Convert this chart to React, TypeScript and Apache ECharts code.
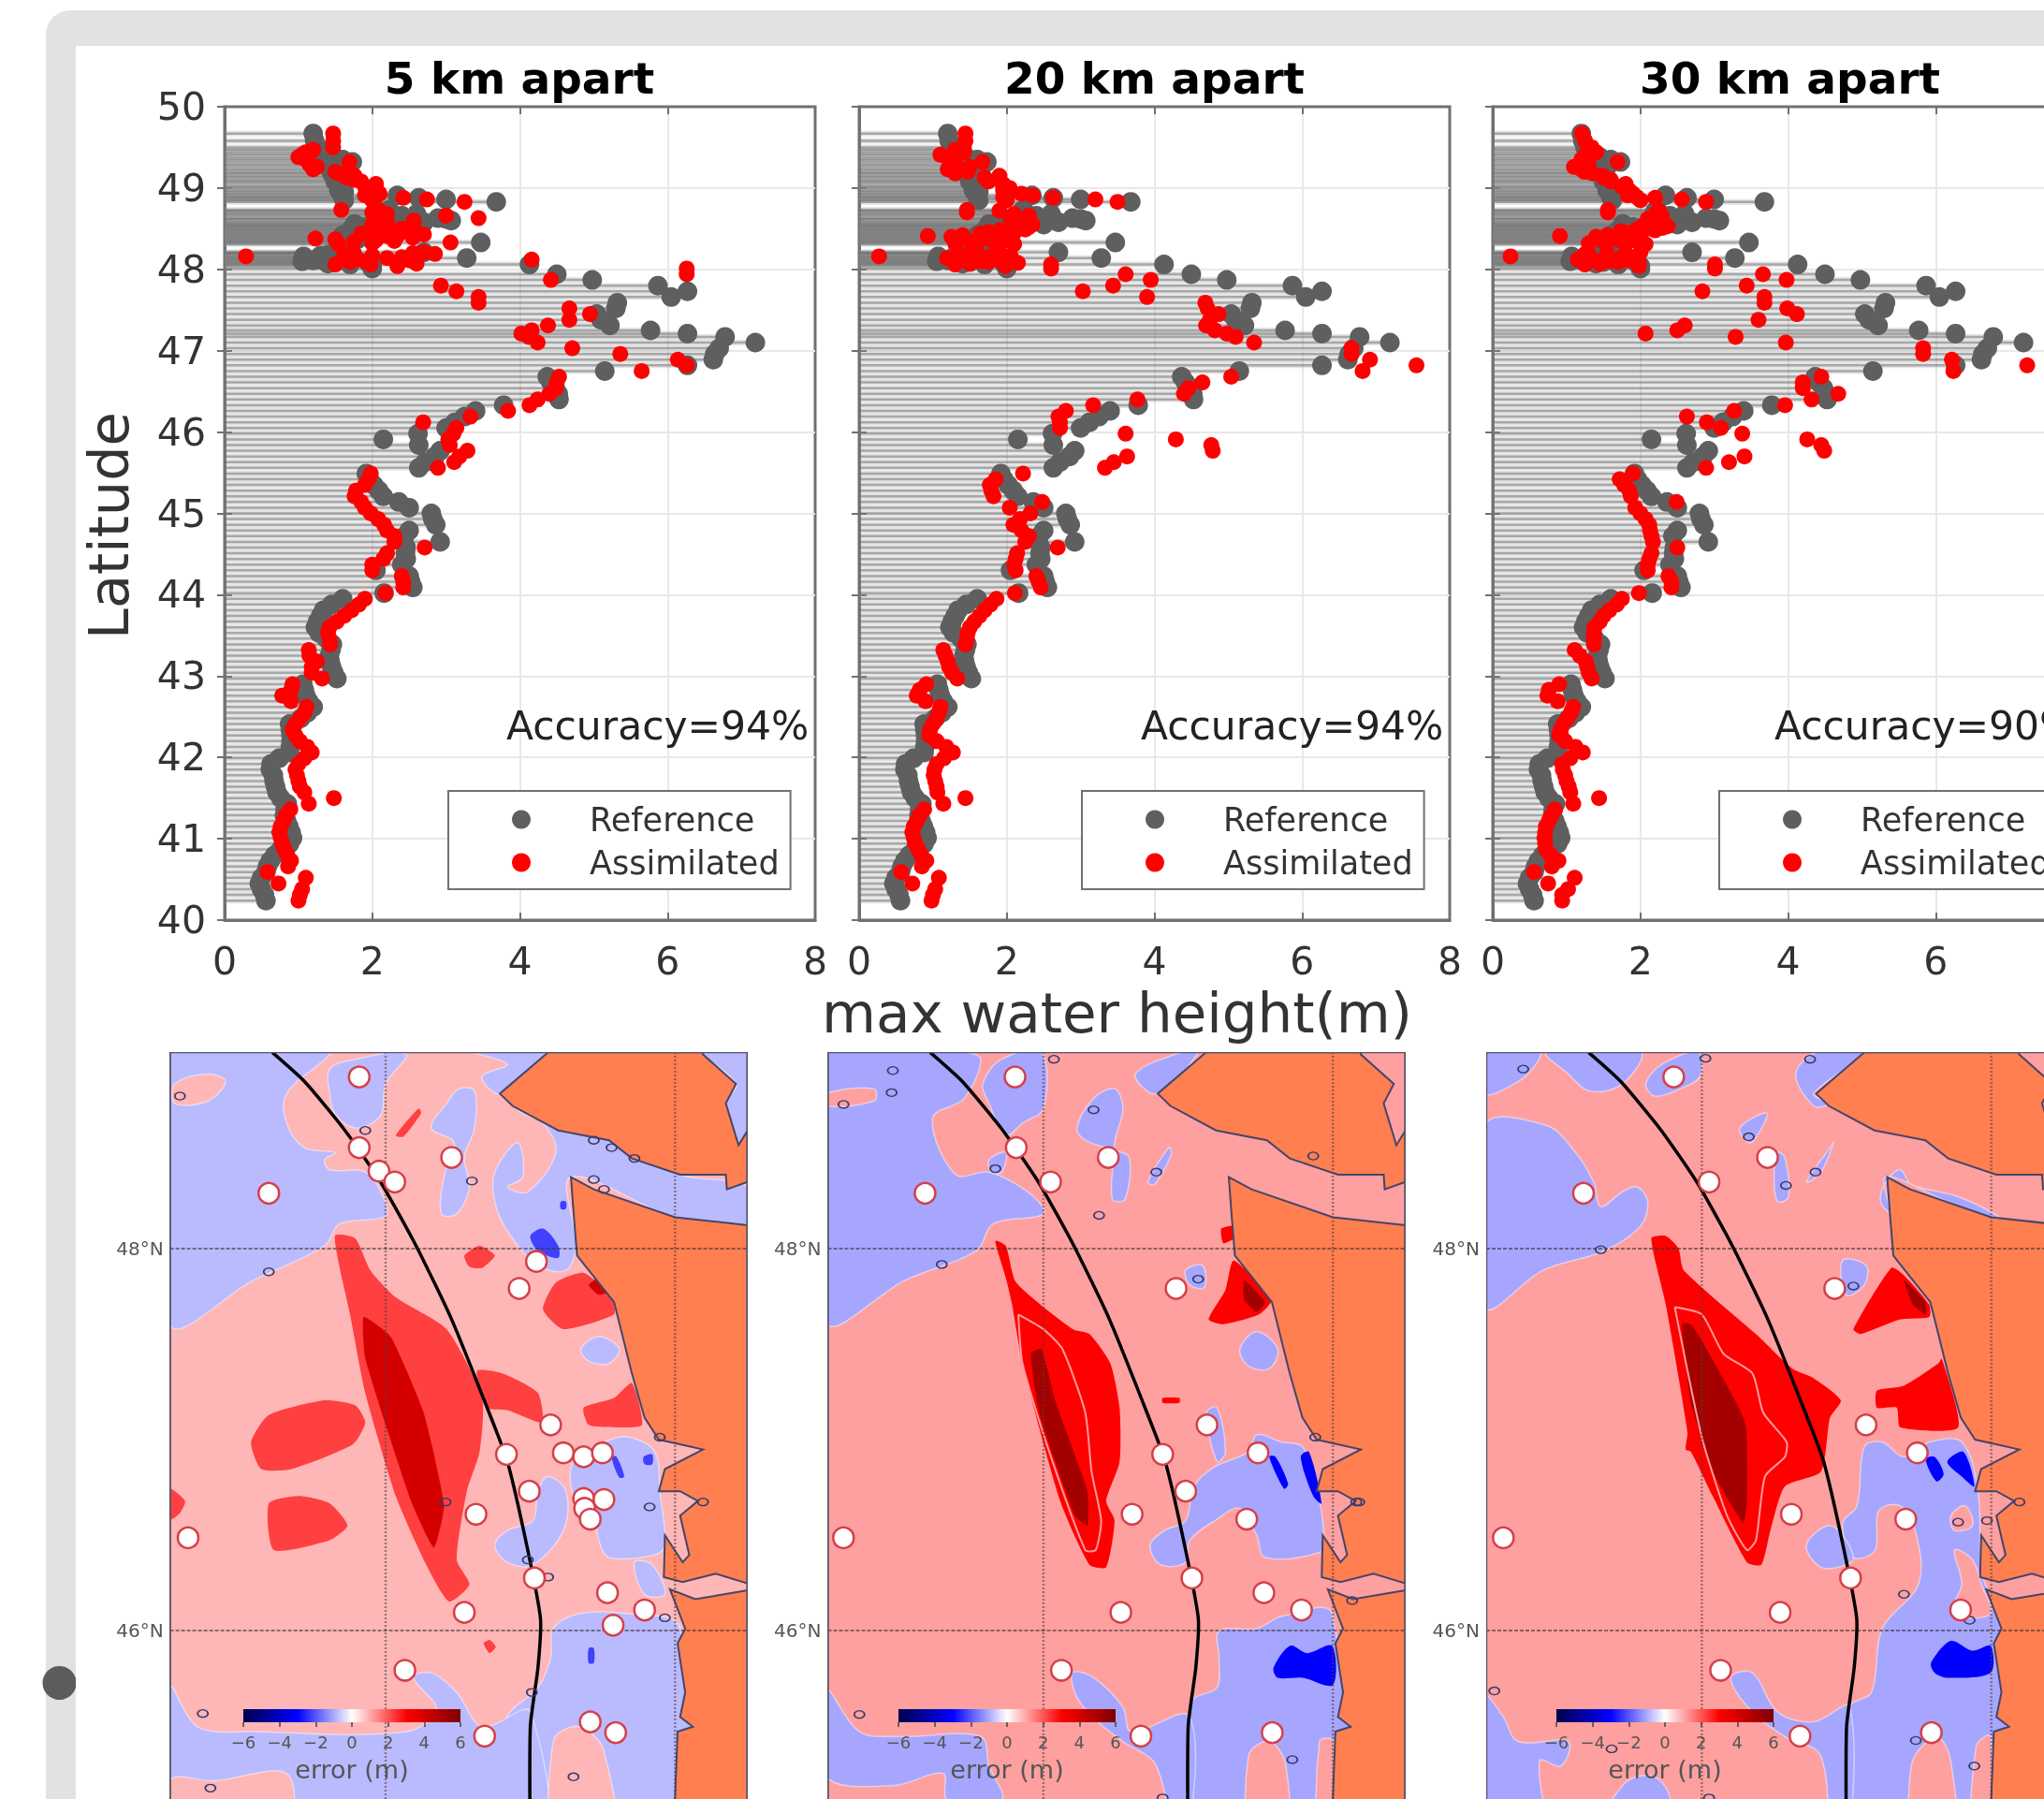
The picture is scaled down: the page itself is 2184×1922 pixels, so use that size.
import React, { useEffect, useRef } from "react";
import * as echarts from "echarts";

const panelTitles = ["5 km apart", "20 km apart", "30 km apart"];
const accuracyLabels = ["Accuracy=94%", "Accuracy=94%", "Accuracy=90%"];
const seriesNames = ["Reference", "Assimilated"];
const xTickStep = 2;
const yTickStep = 1;

const latitudes = [
  40.24,40.31,40.38,40.45,40.52,40.59,40.66,40.73,40.80,40.87,
  40.94,41.01,41.08,41.15,41.22,41.29,41.36,41.43,41.50,41.57,
  41.64,41.71,41.78,41.85,41.92,41.99,42.06,42.13,42.20,42.27,
  42.34,42.41,42.48,42.55,42.62,42.69,42.76,42.83,42.90,42.97,
  43.04,43.11,43.18,43.25,43.32,43.39,43.46,43.53,43.60,43.67,
  43.74,43.81,43.88,43.95,44.02,44.09,44.16,44.23,44.30,44.37,
  44.44,44.51,44.58,44.65,44.72,44.79,44.86,44.93,45.00,45.07,
  45.14,45.21,45.28,45.35,45.42,45.49,45.56,45.63,45.70,45.77,
  45.84,45.91,45.98,46.05,46.12,46.19,46.26,46.33,46.40,46.47,
  46.54,46.61,46.68,46.75,46.82,46.89,46.96,47.03,47.10,47.17,
  47.21,47.25,47.31,47.38,47.45,47.52,47.59,47.66,47.73,47.80,
  47.87,47.94,48.01,48.04,48.06,48.08,48.10,48.12,48.14,48.16,
  48.18,48.21,48.31,48.33,48.36,48.38,48.41,48.44,48.47,48.50,
  48.53,48.56,48.60,48.63,48.66,48.70,48.73,48.83,48.86,48.88,
  48.91,48.95,49.00,49.05,49.10,49.15,49.20,49.26,49.32,49.38,
  49.44,49.50,49.58,49.67,
  // the dense northern cluster
  48.06,48.07,48.09,48.11,48.13,48.15,48.17,48.19,48.20,48.205,
  48.32,48.34,48.35,48.37,48.39,48.40,48.42,48.43,48.45,48.46,
  48.48,48.49,48.51,48.52,48.54,48.55,48.58,48.62,48.68,48.72,
  48.85,48.89,48.93,48.97,49.02,49.08,49.13,49.18,49.23,49.29,
  49.35,49.41,49.47,
];
const referenceHeight = [
  .56,.54,.50,.47,.50,.56,.58,.62,.68,.76,
  .88,.92,.90,.87,.84,.81,.82,.85,.76,.71,
  .69,.67,.66,.62,.63,.74,.88,.89,.90,.90,
  .89,.88,1.03,1.12,1.20,1.14,1.10,1.08,1.06,1.52,
  1.48,1.45,1.43,1.42,1.44,1.46,1.38,1.28,1.23,1.26,
  1.30,1.34,1.45,1.60,2.16,2.55,2.52,2.50,2.05,2.40,
  2.46,2.45,2.46,2.92,2.44,2.50,2.86,2.82,2.80,2.50,
  2.36,2.15,2.09,2.02,1.96,1.92,2.63,2.72,2.85,2.92,
  2.63,2.15,2.62,3.00,3.12,3.25,3.40,3.78,4.53,4.52,
  4.48,4.42,4.37,5.15,6.27,6.62,6.64,6.70,7.19,6.78,
  6.27,5.77,5.22,5.10,5.04,5.30,5.32,6.05,6.27,5.87,
  4.98,4.50,2.00,2.00,4.13,1.95,1.05,1.30,3.28,1.07,
  1.40,2.70,1.60,3.47,1.70,1.60,1.80,1.70,1.75,1.90,
  1.76,1.76,3.07,2.89,2.40,2.20,2.23,3.68,3.00,2.63,
  2.34,1.62,1.58,1.57,1.55,1.50,1.50,1.55,1.73,1.45,
  1.30,1.25,1.22,1.20,
  1.70,1.40,1.50,1.20,1.50,1.60,1.30,1.45,1.55,1.70,
  1.65,1.55,1.70,1.80,1.65,1.75,1.60,1.90,1.75,1.85,
  1.70,1.80,1.75,1.90,2.20,2.50,2.70,3.00,2.60,2.20,
  1.62,1.60,1.60,1.55,1.55,1.50,1.50,1.45,1.45,1.50,
  1.60,1.40,1.30,
];
const assimilated5km = [
  1.00,1.02,1.05,.73,1.10,.58,.86,.90,.85,.81,
  .78,.76,.74,.76,.80,.83,.89,1.14,1.48,1.08,
  1.02,1.00,.98,.96,1.00,1.08,1.18,1.12,1.02,.96,
  .92,.96,1.02,1.08,1.11,.90,.78,.90,.92,1.32,
  1.18,1.18,1.25,1.15,1.14,1.43,1.42,1.40,1.42,1.52,
  1.62,1.72,1.82,1.90,2.18,2.42,2.42,2.40,2.00,2.00,
  2.15,2.20,2.71,2.30,2.30,2.20,2.16,2.08,1.98,1.90,
  1.85,1.76,1.78,1.90,1.95,1.98,2.89,3.11,3.18,3.29,
  3.05,3.03,3.10,3.14,2.69,3.33,3.84,4.13,4.24,4.40,
  4.49,4.50,4.53,5.65,6.26,6.14,5.36,4.71,4.24,4.12,
  4.02,4.16,4.38,4.67,4.95,4.67,3.44,3.44,3.14,2.93,
  4.42,6.26,6.26,2.34,1.98,2.34,1.90,4.16,2.20,0.29,
  1.62,2.70,1.54,3.06,2.05,1.23,2.20,1.85,2.30,2.40,
  2.20,2.56,2.56,3.44,3.00,2.00,1.58,3.25,2.74,2.42,
  1.90,2.05,2.05,2.05,1.76,1.76,1.50,1.25,1.69,1.00,
  1.10,1.47,1.47,1.47,
  1.50,2.60,1.70,2.50,1.80,2.40,2.00,2.85,2.55,1.75,
  2.00,1.75,2.30,1.50,2.55,2.00,2.35,2.70,2.15,2.55,
  2.05,2.20,2.00,2.10,2.20,2.00,2.20,2.10,2.20,2.10,
  2.00,2.05,2.10,1.95,1.90,1.85,1.65,1.55,1.20,1.15,
  1.10,1.05,1.20,
];
const assimilated20km = [
  .98,1.00,1.03,.72,1.08,.57,.85,.91,.84,.80,
  .76,.74,.72,.74,.78,.82,.88,1.14,1.44,1.06,
  1.05,1.03,1.01,1.02,1.05,1.15,1.27,1.18,1.05,.95,
  .96,1.00,1.05,1.08,1.10,.90,.78,.82,.91,1.33,
  1.26,1.22,1.20,1.17,1.14,1.44,1.46,1.47,1.50,1.56,
  1.63,1.70,1.78,1.86,2.11,2.46,2.43,2.40,2.12,2.10,
  2.12,2.14,2.69,2.25,2.30,2.20,2.09,2.18,2.32,2.04,
  2.48,1.82,1.79,1.77,1.85,2.22,3.33,3.45,3.63,4.79,
  4.77,4.29,3.61,2.72,2.72,2.70,2.80,3.17,3.77,4.40,
  4.46,4.65,5.04,6.82,7.55,6.92,6.67,6.67,5.35,5.10,
  4.98,4.82,4.70,4.75,4.87,4.72,4.69,3.90,3.03,3.44,
  3.95,3.61,2.60,1.98,2.60,2.15,1.64,1.98,1.19,0.27,
  1.50,1.90,2.10,1.60,2.00,1.64,0.93,1.64,2.00,2.10,
  2.20,2.30,2.27,2.15,2.30,1.46,1.46,3.50,3.20,2.63,
  2.35,2.04,2.04,1.95,1.90,1.90,1.47,1.50,1.67,1.19,
  1.42,1.42,1.44,1.44,
  1.30,1.50,1.75,1.90,1.40,1.75,2.05,1.35,1.60,1.85,
  1.30,1.50,1.80,1.95,1.70,1.25,1.40,1.85,2.10,1.75,
  1.90,2.25,2.05,2.30,2.15,2.35,2.20,2.05,2.10,1.90,
  2.00,1.95,2.20,1.95,1.95,1.75,1.70,1.30,1.20,1.30,
  1.30,1.10,1.30,
];
const assimilated30km = [
  .94,.94,1.02,.75,1.11,.56,.80,.89,.78,.72,
  .71,.70,.71,.72,.76,.80,.84,1.09,1.44,1.05,
  1.03,1.00,.98,.95,.94,1.05,1.22,1.12,.98,.90,
  .92,.96,1.01,1.06,1.09,.88,.74,.76,.90,1.34,
  1.30,1.28,1.26,1.18,1.11,1.37,1.37,1.37,1.38,1.45,
  1.50,1.58,1.68,1.75,1.98,2.42,2.42,2.38,2.10,2.10,
  2.12,2.15,2.50,2.17,2.15,2.13,2.12,2.07,2.00,1.93,
  2.49,1.87,1.85,1.78,1.72,1.90,2.89,3.20,3.41,4.49,
  4.45,4.26,3.38,3.09,2.90,2.63,3.27,3.96,4.32,4.68,
  4.20,4.20,4.45,6.24,7.24,6.22,5.83,5.83,3.97,3.29,
  2.07,2.50,2.60,3.60,4.12,3.99,3.68,3.68,2.84,3.44,
  3.98,3.66,3.01,1.98,3.01,1.98,1.59,1.15,1.59,0.24,
  1.30,2.00,2.07,1.80,1.90,1.50,0.91,1.73,1.73,2.10,
  2.37,2.20,2.29,2.29,2.29,1.56,1.56,2.89,2.56,2.20,
  1.83,1.83,1.80,1.80,1.60,1.49,1.24,1.10,1.69,1.30,
  1.40,1.34,1.25,1.21,
  1.25,1.45,1.70,1.85,1.35,1.75,1.55,1.25,1.55,1.80,
  1.30,1.50,1.75,1.65,1.95,1.40,1.55,1.90,1.85,2.00,
  2.20,1.95,2.30,2.15,2.25,2.05,2.30,2.10,2.20,2.25,
  2.00,1.95,1.90,1.85,1.75,1.60,1.50,1.35,1.20,1.30,
  1.20,1.25,1.30,
];
const assimilatedByPanel = [assimilated5km, assimilated20km, assimilated30km];

// ---- map data: outlines, each in its own tracing frame,
// converted to lon/lat by traceToGeo below and then drawn through the axes.
const meridians = [-126, -124];
const parallels = [46, 48];
const lonRange = [-127.49, -123.5];
const latRange = [44, 49.03];
const colorbarTicks = [-6, 6];
const colorbarStops = [
  [0, "#00004c"], [0.25, "#0000ff"], [0.5, "#ffffff"], [0.75, "#ff0000"], [1, "#7f0000"],
];

const traceFrames = [{ x0: 760, k: 285 }, { x0: 530, k: 346 }, { x0: 620, k: 401 }];
const traceToGeo = (f: any) => (p: number[]) => [-126 + (p[0] - f.x0) / f.k, 48 - (p[1] - 446) / 389];

const islandOutline = [[1080,46],[985,130],[1010,155],[1100,205],[1200,225],[1245,262],[1340,295],[1430,295],[1432,325],[1473,310],[1473,205],[1455,235],[1430,150],[1450,110],[1385,50],[1385,46]];
const washingtonOutline = [[1125,300],[1170,325],[1330,382],[1473,398],[1473,1128],[1410,1108],[1345,1125],[1308,1115],[1310,1030],[1345,1085],[1358,1070],[1340,990],[1375,960],[1340,940],[1298,940],[1310,895],[1385,855],[1298,835],[1270,790],[1245,700],[1210,555],[1137,460],[1130,370]];
const oregonOutline = [[1473,1142],[1370,1160],[1320,1140],[1350,1220],[1335,1250],[1350,1350],[1340,1400],[1365,1420],[1335,1430],[1325,1700],[1473,1700]];
const trenchLine = [[537,46],[600,105],[680,205],[750,310],[820,440],[890,590],[960,770],[1000,880],[1040,1060],[1065,1200],[1060,1300],[1045,1420],[1045,1700]];

const blue5km = [
  [[335,46],[650,46],[640,60],[565,130],[565,190],[600,240],[660,250],[640,265],[650,285],[720,290],[755,340],[760,380],[670,395],[640,440],[500,510],[335,600]],
  [[650,80],[700,60],[800,50],[760,110],[750,175],[700,200],[660,170],[650,130]],
  [[905,120],[935,125],[935,200],[915,260],[925,320],[900,375],[870,375],[875,300],[895,230],[850,200],[880,150]],
  [[1010,150],[1100,205],[1210,225],[1340,295],[1473,320],[1473,395],[1330,382],[1125,300],[1135,440],[1115,490],[1060,480],[1000,410],[975,350],[975,290],[1020,230],[1030,300],[1000,320],[1040,330],[1095,250],[1070,190],[1030,170]],
  [[940,46],[1080,46],[985,130],[950,95],[1000,70]],
  [[1385,46],[1473,46],[1473,205],[1455,235],[1430,150],[1450,110]],
  [[1145,650],[1180,625],[1220,650],[1200,680],[1160,675]],
  [[1130,880],[1190,840],[1240,830],[1290,860],[1300,940],[1310,1050],[1290,1070],[1200,1075],[1180,1040],[1170,990],[1130,950]],
  [[1250,1085],[1285,1090],[1310,1150],[1270,1150]],
  [[1090,1220],[1140,1190],[1240,1190],[1340,1220],[1345,1700],[1050,1700],[1045,1430],[1000,1400],[1060,1340],[1085,1280]],
  [[335,1340],[390,1420],[500,1430],[800,1430],[860,1385],[815,1320],[850,1310],[900,1350],[950,1420],[1045,1390],[1045,1700],[335,1700]],
  [[1080,910],[1115,940],[1110,1020],[1050,1090],[1000,1085],[975,1050],[1000,1020],[1050,1000],[1060,940]],
];
const pinkOver5km = [
  [[345,110],[410,90],[445,105],[410,145],[345,150]],
  [[335,1530],[420,1530],[570,1520],[540,1700],[335,1700]],
  [[1090,1450],[1140,1420],[1190,1470],[1210,1700],[1100,1700]],
];
const red5km = [
  [[660,420],[700,425],[730,490],[780,545],[880,610],[950,750],[945,860],[920,940],[900,1080],[925,1130],[885,1165],[840,1090],[780,950],[720,740],[690,580]],
  [[940,695],[990,700],[1060,740],[1068,800],[1000,775],[960,770]],
  [[495,840],[530,785],[640,755],[700,765],[720,800],[695,845],[575,895],[515,895]],
  [[530,965],[590,950],[650,965],[685,1010],[650,1040],[540,1060]],
  [[335,935],[365,960],[355,985],[335,998]],
  [[915,460],[945,440],[975,460],[950,485],[925,483]],
  [[1070,570],[1095,515],[1150,495],[1205,545],[1210,580],[1110,610]],
  [[1150,770],[1210,750],[1245,720],[1265,805],[1210,810],[1160,805]],
  [[780,215],[825,160],[830,170],[795,218]],
  [[953,1250],[965,1243],[977,1257],[965,1270]],
];
const darkRed5km = [
  [[717,585],[770,625],[835,780],[875,970],[855,1055],[810,960],[720,670]],
  [[1160,520],[1180,505],[1205,530],[1180,540]],
];
const deepBlue5km = [
  [[1045,420],[1070,405],[1100,440],[1100,465],[1060,450]],
  [[1205,870],[1215,870],[1230,910],[1220,912]],
  [[1268,870],[1285,865],[1285,885],[1270,885]],
  [[1160,1260],[1170,1260],[1170,1290],[1160,1290]],
  [[1105,350],[1115,350],[1115,365],[1105,365]],
];
const blue20km = [
  [[10,595],[200,510],[370,450],[410,395],[530,375],[500,335],[400,290],[320,295],[265,180],[340,140],[380,60],[340,46],[10,46]],
  [[385,110],[430,60],[525,46],[530,160],[480,190],[440,215],[400,150]],
  [[400,265],[440,250],[430,290],[405,290]],
  [[610,200],[650,140],[700,120],[720,160],[700,240],[735,260],[725,345],[695,345],[690,250],[630,225]],
  [[780,310],[830,240],[835,255],[795,315]],
  [[1000,650],[1040,615],[1090,650],[1070,690],[1020,685]],
  [[870,490],[910,480],[915,525],[880,520]],
  [[800,130],[900,46],[860,46],[750,90]],
  [[890,930],[940,890],[1020,860],[1040,825],[1100,840],[1150,850],[1190,960],[1200,1040],[1190,1065],[1060,1075],[1040,1030],[1000,975],[940,1000],[880,1040],[870,1085],[810,1090],[785,1050],[820,1020],[870,1000]],
  [[920,780],[945,770],[965,860],[945,880]],
  [[950,1225],[1040,1220],[1100,1195],[1220,1190],[1225,1700],[870,1700],[885,1370],[945,1340],[950,1280]],
  [[10,1345],[90,1430],[190,1440],[380,1440],[400,1500],[430,1568],[300,1568],[290,1515],[170,1540],[10,1520]],
  [[600,1310],[650,1320],[720,1380],[740,1430],[880,1400],[870,1700],[850,1700],[800,1500],[720,1450],[660,1410],[610,1360]],
];
const pinkOver20km = [
  [[10,130],[125,120],[125,145],[10,155]],
  [[1020,1480],[1070,1450],[1110,1500],[1110,1700],[1030,1700]],
  [[1190,1450],[1225,1450],[1225,1700],[1190,1700]],
];
const red20km = [
  [[415,430],[440,440],[465,515],[600,610],[640,620],[690,680],[712,770],[712,880],[680,960],[700,1000],[680,1095],[640,1090],[570,960],[480,680],[455,560],[440,505]],
  [[925,590],[965,530],[985,470],[1075,550],[1045,580],[960,600]],
  [[815,750],[855,750],[855,760],[815,760]],
  [[955,405],[985,400],[985,425],[960,435]],
];
const darkRed20km = [
  [[500,660],[525,650],[560,760],[635,940],[635,1010],[605,990],[520,780]],
  [[1010,510],[1060,555],[1040,575],[1010,550]],
];
const paleContour20km = [[470,580],[530,610],[575,650],[630,780],[645,900],[668,1000],[655,1060],[630,1060],[540,850],[480,680],[470,580]];
const deepBlue20km = [
  [[1080,1300],[1120,1255],[1160,1270],[1220,1255],[1222,1335],[1150,1320],[1090,1320]],
  [[1070,870],[1085,870],[1115,925],[1105,935]],
  [[1145,870],[1165,860],[1195,965],[1175,950]],
];
const blue30km = [
  [[20,46],[170,46],[150,80],[100,110],[20,130]],
  [[190,46],[450,46],[400,110],[310,125],[250,90]],
  [[465,110],[510,70],[610,46],[615,95],[560,120],[490,135]],
  [[20,195],[190,195],[270,250],[320,310],[340,360],[400,330],[440,320],[470,350],[450,400],[350,450],[180,490],[20,565]],
  [[725,200],[800,170],[770,220],[750,230]],
  [[830,250],[850,260],[860,340],[830,350],[820,300]],
  [[910,310],[975,240],[985,230],[950,290]],
  [[1010,470],[1075,480],[1070,520],[1020,540]],
  [[880,90],[940,46],[1070,46],[930,130],[970,150],[930,155]],
  [[1115,350],[1130,310],[1170,285],[1200,315],[1330,340],[1440,380],[1420,385],[1300,350],[1130,300],[1140,370]],
  [[1070,850],[1120,840],[1180,870],[1250,840],[1340,840],[1385,940],[1395,1100],[1430,1180],[1450,1230],[1420,1700],[1015,1700],[1030,1380],[1090,1350],[1120,1220],[1220,1130],[1215,1030],[1170,970],[1110,980],[1100,1060],[1040,1075],[1010,1005],[1050,970]],
  [[910,1050],[970,1010],[1010,1030],[1040,1075],[1020,1090],[950,1095]],
  [[20,1360],[70,1400],[110,1450],[250,1450],[230,1500],[170,1490],[190,1700],[20,1700]],
  [[290,1700],[400,1540],[480,1520],[530,1560],[540,1700]],
  [[700,1320],[760,1310],[830,1390],[930,1410],[1030,1380],[1020,1700],[980,1700],[950,1480],[850,1440],[760,1390]],
];
const pinkOver30km = [
  [[1320,1060],[1370,1080],[1395,1130],[1420,1190],[1310,1190],[1340,1130]],
  [[1310,990],[1350,970],[1370,1010],[1320,1020]],
  [[1200,1500],[1270,1440],[1310,1490],[1320,1700],[1220,1700]],
  [[1380,1460],[1420,1440],[1420,1700],[1370,1700]],
];
const red30km = [
  [[480,425],[520,420],[555,445],[570,490],[770,620],[870,690],[930,710],[1005,755],[975,790],[950,900],[850,930],[810,1020],[785,1090],[745,1085],[650,950],[590,860],[575,855],[580,820],[520,560]],
  [[1040,610],[1145,485],[1180,500],[1250,560],[1250,585],[1170,590],[1060,620]],
  [[1105,735],[1180,725],[1275,680],[1285,670],[1330,810],[1170,810],[1160,770],[1105,770]],
];
const darkRed30km = [
  [[565,600],[590,600],[625,640],[740,800],[745,960],[735,1005],[650,900],[590,760]],
  [[1180,510],[1240,555],[1240,580],[1205,560]],
];
const paleContour30km = [[545,565],[620,580],[680,660],[760,700],[790,780],[855,840],[850,870],[795,910],[770,1040],[745,1060],[690,990],[620,830],[545,565]];
const deepBlue30km = [
  [[1255,1290],[1310,1245],[1370,1265],[1420,1255],[1420,1310],[1300,1320],[1265,1310]],
  [[1240,875],[1265,870],[1290,905],[1270,920]],
  [[1300,880],[1345,860],[1375,930],[1340,910]],
];
const stations5km = [[708,96],[890,260],[708,240],[747,288],[778,310],[530,333],[1057,472],[1023,527],[1085,805],[998,865],[1110,862],[1150,870],[1187,862],[1043,940],[1150,955],[1190,957],[1152,975],[1163,997],[938,987],[371,1035],[1053,1117],[1197,1147],[1270,1182],[915,1187],[1208,1213],[798,1305],[955,1439],[1163,1410],[1213,1432]];
const stations20km = [[462,96],[685,260],[465,240],[547,310],[247,333],[847,527],[921,805],[815,865],[1043,862],[870,940],[742,987],[52,1035],[1016,997],[885,1117],[1057,1147],[1147,1182],[715,1187],[573,1305],[763,1439],[1077,1432]];
const stations30km = [[542,96],[802,260],[640,310],[292,333],[988,527],[1075,805],[1217,862],[868,987],[70,1035],[1185,997],[1032,1117],[1337,1182],[837,1187],[672,1305],[892,1439],[1256,1432]];
const gauges5km = [[720,205],[930,308],[530,493],[355,135],[1170,225],[1205,240],[1250,262],[1170,305],[1190,325],[400,1393],[1048,1350],[1130,1522],[415,1545],[1310,1198],[1280,972],[1385,962],[1300,830],[1040,1080],[1080,1115],[878,962]];
const gauges20km = [[170,83],[167,128],[52,152],[555,60],[650,163],[415,283],[800,290],[663,378],[287,478],[900,508],[1278,962],[1175,257],[90,1395],[1125,1487],[1180,830],[1268,1163],[815,1565],[1285,962]];
const gauges30km = [[125,80],[630,58],[920,60],[750,218],[853,317],[935,290],[340,448],[1040,522],[1330,1003],[1180,1150],[1362,1203],[1500,962],[45,1347],[1213,1448],[1375,1500],[370,1465],[1410,1000],[640,1565]];

const mapPanels = [
  { blue: blue5km, pinkOver: pinkOver5km, red: red5km, darkRed: darkRed5km, deepBlue: deepBlue5km, pale: null, stations: stations5km, gauges: gauges5km,
    sea: "#ffb6b6", seaBlue: "#babaff", redFill: "#ff4040", darkFill: "#d40000", deepFill: "#4040ff" },
  { blue: blue20km, pinkOver: pinkOver20km, red: red20km, darkRed: darkRed20km, deepBlue: deepBlue20km, pale: paleContour20km, stations: stations20km, gauges: gauges20km,
    sea: "#ffa0a0", seaBlue: "#a6a6ff", redFill: "#ff0000", darkFill: "#a50000", deepFill: "#0000ff" },
  { blue: blue30km, pinkOver: pinkOver30km, red: red30km, darkRed: darkRed30km, deepBlue: deepBlue30km, pale: paleContour30km, stations: stations30km, gauges: gauges30km,
    sea: "#ffa0a0", seaBlue: "#a6a6ff", redFill: "#ff0000", darkFill: "#a50000", deepFill: "#0000ff" },
];

const FONT = "DejaVu Sans";
const chartLefts = [240, 918, 1595];
const chartW = 631;
const chartTop = 114;
const chartH = 869;
const mapLefts = [181.6, 884.5, 1588];
const mapW = 617;
const mapTop = 1124;
const mapH = 1026;
const barLefts = [260, 960, 1663];
const legendLefts = [479, 1156, 1837];
const accuracyLefts = [541, 1219, 1896];
const titleCenters = [550, 1228.5, 1907.5];

function buildLayers(panelIndex: number) {
  const p: any = mapPanels[panelIndex];
  const toGeo = traceToGeo(traceFrames[panelIndex]);
  const toGeoBase = traceToGeo(traceFrames[0]);
  const paleStroke = "rgba(255,255,255,0.45)";
  const layers: any[] = [];
  const add = (pts: number[][], style: any, smooth = 0.35, kind = "polygon") =>
    layers.push({ pts, style, smooth, kind });
  add([[lonRange[0], latRange[1]], [lonRange[1], latRange[1]], [lonRange[1], latRange[0]], [lonRange[0], latRange[0]]], { fill: p.sea }, 0);
  p.blue.forEach((a: number[][]) => add(a.map(toGeo), { fill: p.seaBlue, stroke: paleStroke, lineWidth: 1.5 }));
  p.pinkOver.forEach((a: number[][]) => add(a.map(toGeo), { fill: p.sea, stroke: paleStroke, lineWidth: 1.5 }));
  p.red.forEach((a: number[][]) => add(a.map(toGeo), { fill: p.redFill }, 0.2));
  p.darkRed.forEach((a: number[][]) => add(a.map(toGeo), { fill: p.darkFill }, 0.15));
  if (p.pale) add(p.pale.map(toGeo), { fill: "none", stroke: "#ff9a9a", lineWidth: 2 }, 0.2, "polyline");
  p.deepBlue.forEach((a: number[][]) => add(a.map(toGeo), { fill: p.deepFill }, 0.3));
  [islandOutline, washingtonOutline, oregonOutline].forEach((a) =>
    add(a.map(toGeoBase), { fill: "#ff7f50", stroke: "#45456a", lineWidth: 2 }, 0));
  meridians.forEach((lon) =>
    add([[lon, latRange[0]], [lon, latRange[1]]], { fill: "none", stroke: "rgba(85,60,60,0.55)", lineWidth: 2.5, lineDash: [2, 2] }, 0, "polyline"));
  parallels.forEach((lat) =>
    add([[lonRange[0], lat], [lonRange[1], lat]], { fill: "none", stroke: "rgba(60,50,50,0.8)", lineWidth: 1.5, lineDash: [4, 2] }, 0, "polyline"));
  add(trenchLine.map(toGeoBase), { fill: "none", stroke: "#000000", lineWidth: 3.5 }, 0.2, "polyline");
  add([[lonRange[0], latRange[1]], [lonRange[1], latRange[1]], [lonRange[1], latRange[0]], [lonRange[0], latRange[0]]],
    { fill: "none", stroke: "#55556a", lineWidth: 2.5 }, 0);
  return layers;
}

function buildOption() {
  const grid: any[] = [];
  const xAxis: any[] = [];
  const yAxis: any[] = [];
  const series: any[] = [];
  const title: any[] = [];
  const legend: any[] = [];
  const graphic: any[] = [
    { type: "rect", z: -10, silent: true, shape: { x: 49, y: 11, width: 2300, height: 2100, r: 26 }, style: { fill: "#e2e2e2" } },
    { type: "circle", z: -9, silent: true, shape: { cx: 63.5, cy: 1798, r: 18 }, style: { fill: "#5c5c5c" } },
    { type: "rect", z: -8, silent: true, shape: { x: 81, y: 49, width: 2200, height: 2000 }, style: { fill: "#ffffff" } },
  ];

  const lineCol = "#707070";
  const gridLines = { show: true, showMinLine: false, showMaxLine: false, lineStyle: { color: "#e8e8e8", width: 2 } };
  panelTitles.forEach((t, i) => {
    grid.push({ left: chartLefts[i], top: chartTop, width: chartW, height: chartH, show: true, borderColor: lineCol, borderWidth: 3, backgroundColor: "transparent", outerBoundsMode: "none" });
    title.push({ text: t, left: titleCenters[i], top: 55, textAlign: "center", textStyle: { fontFamily: FONT, fontWeight: "bold", fontSize: 47, color: "#000" } });
    legend.push({
      left: legendLefts[i], top: 845, orient: "vertical", data: seriesNames, icon: "circle", selectedMode: false,
      itemWidth: 20, itemHeight: 20, itemGap: 11, padding: [13, 12, 11, 68], z: 20,
      borderColor: lineCol, borderWidth: 2, backgroundColor: "#fff",
      textStyle: { fontFamily: FONT, fontSize: 35, color: "#333", padding: [0, 0, 0, 58] },
    });
    graphic.push({ type: "text", x: accuracyLefts[i], y: 775, z: 30, silent: true,
      style: { text: accuracyLabels[i], font: `42.4px "${FONT}"`, fill: "#222", textVerticalAlign: "middle" } });
  });

  // chart axes
  panelTitles.forEach((_, i) => {
    xAxis.push({
      gridIndex: i, type: "value", min: 0, max: 8, interval: xTickStep, position: "bottom",
      axisLine: { show: true, lineStyle: { color: lineCol, width: 3 } },
      axisTick: { show: true, inside: true, length: 8, lineStyle: { color: lineCol, width: 2 } },
      splitLine: gridLines,
      axisLabel: { fontFamily: FONT, fontSize: 41, color: "#333", margin: 23 },
      ...(i === 1 ? { name: "max water height(m)", nameLocation: "middle", nameGap: 69, nameMoveOverlap: false,
        nameTextStyle: { fontFamily: FONT, fontSize: 59.5, color: "#333", padding: [0, 80, 0, 0] } } : {}),
    });
    yAxis.push({
      gridIndex: i, type: "value", min: 40, max: 50, interval: yTickStep, position: "left",
      axisLine: { show: true, lineStyle: { color: lineCol, width: 3 } },
      axisTick: { show: true, inside: true, length: 8, lineStyle: { color: lineCol, width: 2 } },
      splitLine: gridLines,
      axisLabel: { show: i === 0, fontFamily: FONT, fontSize: 41, color: "#333", margin: 20 },
      ...(i === 0 ? { name: "Latitude", nameLocation: "middle", nameGap: 94, nameMoveOverlap: false,
        nameTextStyle: { fontFamily: FONT, fontSize: 59, color: "#333", padding: [0, 26, 0, 0] } } : {}),
    });
  });
  // mirrored box ticks
  panelTitles.forEach((_, i) => {
    xAxis.push({ gridIndex: i, type: "value", min: 0, max: 8, interval: xTickStep, position: "top",
      axisLine: { show: false }, splitLine: { show: false }, axisLabel: { show: false },
      axisTick: { show: true, inside: true, length: 8, lineStyle: { color: lineCol, width: 2 } } });
    yAxis.push({ gridIndex: i, type: "value", min: 40, max: 50, interval: yTickStep, position: "right",
      axisLine: { show: false }, splitLine: { show: false }, axisLabel: { show: false },
      axisTick: { show: true, inside: true, length: 8, lineStyle: { color: lineCol, width: 2 } } });
  });
  // map grids: indices 3..5
  panelTitles.forEach((_, i) => {
    grid.push({ left: mapLefts[i], top: mapTop, width: mapW, height: mapH, outerBoundsMode: "none" });
    xAxis.push({ gridIndex: 3 + i, type: "value", min: lonRange[0], max: lonRange[1], show: false });
    yAxis.push({ gridIndex: 3 + i, type: "value", min: latRange[0], max: latRange[1], interval: parallels[1] - parallels[0], position: "left",
      axisLine: { show: false }, axisTick: { show: false }, splitLine: { show: false },
      axisLabel: { fontFamily: FONT, fontSize: 20, color: "#555", margin: 7,
        formatter: (v: number) => (parallels.includes(v) ? `${v}°N` : "") } });
  });
  // colorbar grids: indices 6..8
  panelTitles.forEach((_, i) => {
    grid.push({ left: barLefts[i], top: 1826, width: 232, height: 14, outerBoundsMode: "none" });
    xAxis.push({ gridIndex: 6 + i, type: "value", min: colorbarTicks[0], max: colorbarTicks[1], interval: 2, position: "bottom", z: 12,
      name: "error (m)", nameLocation: "middle", nameGap: 37, nameMoveOverlap: false,
      nameTextStyle: { fontFamily: FONT, fontSize: 27, color: "#555" },
      axisLine: { show: false }, splitLine: { show: false },
      axisTick: { show: true, length: 5, lineStyle: { color: "#444", width: 1.5 } },
      axisLabel: { fontFamily: FONT, fontSize: 18, color: "#555", margin: 12,
        formatter: (v: number) => String(v).replace("-", "\u2212") } });
    yAxis.push({ gridIndex: 6 + i, type: "value", min: 0, max: 1, show: false });
  });

  const stemLight = "rgba(150,150,150,0.26)";
  const stemDark = "rgba(105,105,105,0.5)";
  panelTitles.forEach((_, i) => {
    const stems = latitudes.map((lat, k) => [referenceHeight[k], lat]);
    series.push({
      type: "custom", xAxisIndex: i, yAxisIndex: i, z: 2, silent: true, data: stems,
      renderItem: (_p: any, api: any) => {
        const a = api.coord([0, api.value(1)]);
        const b = api.coord([api.value(0), api.value(1)]);
        const shape = { x1: a[0], y1: a[1], x2: b[0], y2: b[1] };
        return { type: "group", children: [
          { type: "line", shape, style: { stroke: stemLight, lineWidth: 6 } },
          { type: "line", shape, style: { stroke: stemDark, lineWidth: 2.5 } },
        ] };
      },
    });
    series.push({ type: "scatter", name: seriesNames[0], xAxisIndex: i, yAxisIndex: i, z: 3, symbolSize: 21,
      itemStyle: { color: "#5f5f5f", opacity: 1 }, data: stems });
    series.push({ type: "scatter", name: seriesNames[1], xAxisIndex: i, yAxisIndex: i, z: 4, symbolSize: 17,
      itemStyle: { color: "#ff0000", opacity: 1 }, data: latitudes.map((lat, k) => [assimilatedByPanel[i][k], lat]) });
  });

  panelTitles.forEach((_, i) => {
    const layers = buildLayers(i);
    const ax = 6 + i;
    const axisIndex = { xAxisIndex: ax, yAxisIndex: ax };
    const toGeo = traceToGeo(traceFrames[i]);
    series.push({
      type: "custom", ...axisIndex, z: 2, silent: true, clip: true,
      data: layers.map(() => [-126, 47]),
      renderItem: (p: any, api: any) => {
        const l = layers[p.dataIndex];
        const points = l.pts.map((q: number[]) => api.coord(q));
        return { type: l.kind, shape: { points, smooth: l.smooth }, style: l.style };
      },
    });
    series.push({ type: "scatter", ...axisIndex, z: 5, silent: true, symbol: "circle", symbolSize: [11, 8],
      itemStyle: { color: "rgba(0,0,0,0)", borderColor: "#3a3a6a", borderWidth: 1.5, opacity: 1 },
      data: mapPanels[i].gauges.map(toGeo) });
    series.push({ type: "scatter", ...axisIndex, z: 6, silent: true, symbolSize: 22,
      itemStyle: { color: "#ffffff", borderColor: "#d4404a", borderWidth: 2.5, opacity: 1 },
      data: mapPanels[i].stations.map(toGeo) });
    const bar = 9 + i;
    series.push({
      type: "custom", xAxisIndex: bar, yAxisIndex: bar, z: 10, silent: true, data: [[0, 0.5]],
      renderItem: (_p: any, api: any) => {
        const points = [[colorbarTicks[0], 0], [colorbarTicks[1], 0], [colorbarTicks[1], 1], [colorbarTicks[0], 1]].map((q) => api.coord(q));
        return { type: "polygon", shape: { points },
          style: { fill: new echarts.graphic.LinearGradient(0, 0, 1, 0, colorbarStops.map((s) => ({ offset: s[0], color: s[1] }))) } };
      },
    });
  });

  return { animation: false, backgroundColor: "#ffffff", grid, xAxis, yAxis, series, title, legend, graphic };
}

export default function App() {
  const ref = useRef<HTMLDivElement>(null);
  useEffect(() => {
    const chart = echarts.init(ref.current as HTMLDivElement, undefined, { renderer: "svg" });
    chart.setOption(buildOption() as any);
    return () => chart.dispose();
  }, []);
  return (
    <div
      ref={ref}
      style={{ position: "absolute", left: 0, top: 0, width: 2184, height: 1922, filter: "blur(0.7px)" }}
    />
  );
}
